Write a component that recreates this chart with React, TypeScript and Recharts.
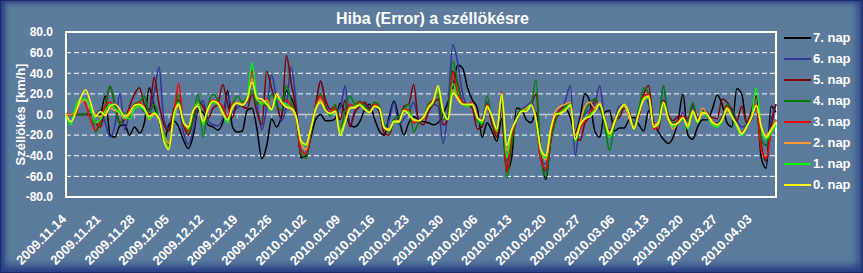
import React from "react";
import {
  LineChart,
  Line,
  XAxis,
  YAxis,
  CartesianGrid,
  ReferenceLine,
  ReferenceArea,
} from "recharts";

const DATE_LABELS = [
  "2009.11.14", "2009.11.21", "2009.11.28", "2009.12.05", "2009.12.12",
  "2009.12.19", "2009.12.26", "2010.01.02", "2010.01.09", "2010.01.16",
  "2010.01.23", "2010.01.30", "2010.02.06", "2010.02.13", "2010.02.20",
  "2010.02.27", "2010.03.06", "2010.03.13", "2010.03.20", "2010.03.27",
  "2010.04.03",
];

const Y_TICKS = [-80, -60, -40, -20, 0, 20, 40, 60, 80];

// one value per day, 2009.11.14 .. 2010.04.08
const NAP7 = [
  0, 0, 0, 0, 0, 0, 0, 0, 18, -20,
  -22, -11, -10, -20, -12, -18, -8, 26, 8, -4,
  -26, -10, -6, -12, -25, -33, -20, 4, 2, -10,
  -12, -15, -8, 23, -12, -17, -16, 4, 6, -14,
  -43, -30, -4, -12, -2, 23, 16, 2, -42, -40,
  -22, -5, 0, -6, -6, -4, 11, 2, -10, -12,
  -7, 5, 10, -4, -16, -20, -2, 13, -4, -20,
  -8, -2, -5, -7, -8, -10, -8, 0, 12, 26,
  48, 45, 26, 14, 6, -22, -8, -16, -26, -4,
  -55, -42, 6, 5, -5, -8, 2, -40, -63, -25,
  -5, 2, 6, -3, -18, -2, 20, 12, -16, -22,
  2, 4, -16, -13, -13, -5, -3, -10, -16, 4,
  -8, -17, -24, -28, -22, -6, 20, -20, -24, -12,
  -5, -5, 5, 19, 10, -8, -12, 25, 20, -8,
  -3, 9, -42, -52, 8, 2,
];

const NAP6 = [
  0, 0, 0, 0, 0, 0, 0, 4, -8, -22,
  -10, 20, -15, 2, 10, 12, 2, 3, 20, 46,
  -5, -14, 2, 6, -18, -29, -15, 8, 13, -6,
  -10, -11, -4, 20, 2, 7, 9, 12, 30, 10,
  -15, 8, 38, 15, -6, 8, 46, 10, -34, -38,
  -15, 8, 33, 10, 2, 5, 6, 28, -10, 4,
  8, 10, 5, 8, 2, -12, -5, 12, -10, -4,
  2, 12, -4, -2, 4, 10, 8, -28, 5, 68,
  50, 20, 10, 12, -6, -4, 12, -10, -15, 8,
  -45, -20, -2, 5, 8, 12, -3, -45, -48, -20,
  -2, 3, 14, 28, -40, -5, 0, 5, 10, 28,
  -4, -15, -5, 8, 10, -2, -8, 5, 20, 10,
  -10, -10, 28, -5, -12, -8, 2, -10, 8, -4,
  5, 2, -6, -8, -2, 8, 6, -6, -12, -10,
  -5, 8, -25, -30, -5, 10,
];

const NAP5 = [
  0, 0, 0, 0, 0, 0, -8, -12, 5, 27,
  10, -8, -5, 8, 20, 26, 10, 5, 36, 10,
  -10, -16, 5, 14, -10, -20, -5, 12, 8, -4,
  6, 10, 29, 10, -3, 12, 8, 6, 20, 2,
  -10, 42, 25, 10, -4, 57, 30, 5, -40, -42,
  -20, 10, 32, 14, 5, 8, -5, 14, -12, 2,
  8, 12, 6, 10, 4, -18, -20, -5, -8, 8,
  10, 29, -6, -10, 2, 10, 15, -10, -5, 42,
  30, 12, 10, 6, -14, -12, 8, -8, -22, 10,
  -52, -25, -6, 4, 5, 10, 20, -40, -55, -25,
  -2, 5, 8, 12, -20, -25, -8, -2, 15, 6,
  -5, -18, -5, -3, 6, 3, -12, -2, 20, 28,
  -8, -15, 14, 0, -6, -2, -2, -4, 10, -4,
  4, 0, -3, -4, 15, 12, 4, -6, 8, -8,
  4, 18, -30, -45, -12, 10,
];

const NAP4 = [
  0, 0, 0, 0, 0, 5, -17, -8, 10, 28,
  8, -10, 2, -3, 10, 12, 18, 0, 10, -5,
  -18, -30, -5, 20, -6, -18, -2, 20, -22, 8,
  20, 14, 6, -3, 10, 18, 12, 16, 22, 10,
  12, 8, 20, 10, 4, 28, 12, -4, -38, -42,
  -18, 8, 20, 8, -2, 10, -15, 5, 18, 10,
  13, 8, 4, 12, 8, -10, -17, -4, -2, 6,
  10, -17, -8, -3, 10, 14, 20, -5, 0, 52,
  30, 10, 8, 10, -5, -10, 18, -5, -18, 18,
  -62, -30, -4, 5, 6, 10, 34, -42, -60, -25,
  -5, 3, 8, 12, -26, -8, 3, 12, 15, 8,
  -10, -35, -10, 2, 8, 0, -10, 5, 26, 20,
  -12, -8, 28, -3, -8, -6, -4, -6, 12, -8,
  4, -2, -6, -10, -3, 10, 2, -10, -18, -10,
  -4, 10, -24, -30, -16, -5,
];

const NAP3 = [
  0, 0, 0, 15, 10, -5, -15, -6, 8, 12,
  6, 2, -4, 4, 8, 12, 5, 0, 2, -4,
  -20, -30, -3, 30, -8, -16, 4, 12, -8, 6,
  14, 12, 8, -2, 10, 12, 10, 16, 42, 14,
  10, 15, 6, 18, 10, 14, 8, -4, -35, -38,
  -16, 8, 18, 6, 2, 6, -18, -5, 10, 8,
  12, 6, 3, 10, 6, -14, -16, -6, -6, 5,
  4, -8, -6, -4, 8, 14, 26, 2, -4, 40,
  20, 12, 8, 12, -4, -6, 10, -4, -18, 22,
  -56, -22, -6, 3, 4, 10, -4, -45, -52, -20,
  -2, 4, 6, 10, -25, -14, -6, 2, 6, 10,
  -4, -20, -8, 4, 8, 1, -14, 0, 18, 20,
  -14, -10, 12, -4, -10, -6, -2, -12, 4, -6,
  2, 0, -8, -10, -4, 8, -2, -10, -18, -12,
  -4, 10, -35, -42, -18, -6,
];

const NAP2 = [
  0, 0, 3, 12, 14, 5, 0, -2, 2, 6,
  4, 1, -4, 0, 6, 8, 5, -5, 0, -5,
  -20, -28, -4, 8, -6, -12, 4, 10, -6, 4,
  12, 10, 0, -6, 8, 12, 10, 14, 35, 14,
  12, 14, 4, 18, 12, 8, 5, -4, -28, -34,
  -14, 6, 14, 4, 1, 4, -16, -6, 6, 6,
  10, 5, 2, 8, 6, -12, -14, -6, -6, 4,
  2, -6, -6, -2, 6, 12, 24, 4, -5, 24,
  14, 10, 8, 10, -2, -6, 6, -2, -16, 18,
  -35, -16, -4, 3, 6, 10, -4, -36, -44, -16,
  4, 8, 10, 12, -20, -8, 8, 12, 6, 12,
  -4, -18, -6, 4, 8, -4, -12, 2, 14, 16,
  -10, -8, 10, -5, -14, -8, -4, -10, 4, -6,
  6, 0, -6, -10, -6, 4, -2, -10, -18, -12,
  -2, 8, -12, -20, -14, -6,
];

const NAP1 = [
  0, -10, 8, 15, 15, 6, -8, -5, 4, 10,
  6, 2, -3, -4, 6, 8, 4, -4, 2, -4,
  -22, -32, -4, 12, -6, -14, 4, 12, -10, 6,
  12, 10, 2, -8, 8, 11, 9, 16, 50, 16,
  10, 12, 4, 16, 12, 10, 6, -2, -26, -30,
  -14, 6, 12, 4, 0, 4, -18, -6, 6, 8,
  10, 6, 2, 8, 6, -12, -16, -6, -8, 4,
  2, -5, -6, -3, 6, 12, 26, 2, -4, 30,
  16, 10, 8, 10, -4, -8, 8, -2, -16, 20,
  -42, -16, -6, 3, 4, 10, -6, -36, -42, -14,
  0, 2, 6, 10, -26, -10, -4, 0, 4, 10,
  -5, -22, -8, 4, 10, 1, -14, 2, 16, 16,
  -12, -10, 10, -4, -12, -8, -4, -14, 2, -8,
  2, -2, -10, -12, -6, 6, -2, -12, -20, -12,
  -2, 26, -14, -24, -18, -10,
];

const NAP0 = [
  0, -7, 2, 16, 24, 12, -2, 3, -1, 8,
  10, 5, -2, 2, 9, 10, 6, -2, 1, -4,
  -26, -34, 0, 10, -8, -12, 4, 8, -7, 6,
  13, 11, 2, -5, 7, 11, 9, 15, 31, 16,
  15, 10, 5, 20, 12, 7, 6, -2, -26, -29,
  -14, 5, 12, 4, 1, 3, -20, -8, 6, 7,
  9, 5, 2, 8, 6, -13, -15, -7, -7, 4,
  0, -5, -6, -3, 7, 13, 28, 4, -5, 21,
  16, 10, 10, 10, -3, -6, 8, -2, -14, 20,
  -30, -15, -5, 3, 3, 9, -5, -34, -40, -14,
  0, 1, 4, 9, -24, -10, -4, -2, 3, 10,
  -5, -19, -8, 4, 10, 1, -14, 1, 15, 18,
  -12, -8, 12, -4, -10, -8, -3, -12, 3, -7,
  2, 0, -8, -10, -5, 6, -2, -10, -19, -12,
  -3, 9, -12, -22, -15, -8,
];

const SERIES = [
  { key: "nap7", name: "7. nap", color: "#000000", values: NAP7 },
  { key: "nap6", name: "6. nap", color: "#333399", values: NAP6 },
  { key: "nap5", name: "5. nap", color: "#800000", values: NAP5 },
  { key: "nap4", name: "4. nap", color: "#008000", values: NAP4 },
  { key: "nap3", name: "3. nap", color: "#FF0000", values: NAP3 },
  { key: "nap2", name: "2. nap", color: "#FF9933", values: NAP2 },
  { key: "nap1", name: "1. nap", color: "#00FF00", values: NAP1 },
  { key: "nap0", name: "0. nap", color: "#FFFF00", values: NAP0 },
];

const TICK_DAYS = DATE_LABELS.map((_, i) => i * 7);
const LAST_DAY = NAP0.length - 1;

const data = NAP0.map((_, i) => {
  const row: Record<string, number> = { day: i };
  SERIES.forEach((s) => {
    row[s.key] = s.values[i];
  });
  return row;
});

const FONT = '"Liberation Sans", Arial, sans-serif';
const BG = "#5B7A9C";

const DateTick = (props: any) => {
  const { x, y, payload } = props;
  const label = DATE_LABELS[Math.round(payload.value / 7)];
  const ax = x + 1;
  const ay = y + 23;
  return (
    <text
      x={ax}
      y={ay}
      transform={`rotate(-45, ${ax}, ${ay})`}
      textAnchor="end"
      fill="#ffffff"
      fontSize={13}
      fontWeight="bold"
      fontFamily={FONT}
    >
      {label}
    </text>
  );
};

export default function App() {
  return (
    <div
      style={{
        position: "absolute",
        left: 0,
        top: 0,
        width: 863,
        height: 273,
        background: BG,
        boxShadow:
          "inset 0 0 0 1px #1c2b6a, inset 5px 3px 5px #2b3f86, inset -5px -7px 7px #2b3f86",
        fontFamily: FONT,
        overflow: "hidden",
      }}
    >
      <div
        style={{
          position: "absolute",
          left: 0,
          top: 11,
          width: 865,
          textAlign: "center",
          color: "#fff",
          fontWeight: "bold",
          fontSize: 16,
          lineHeight: "16px",
        }}
      >
        Hiba (Error) a széllökésre
      </div>

      <LineChart
        width={863}
        height={273}
        data={data}
        margin={{ top: 32, right: 87, bottom: 0, left: 0 }}
      >
        <CartesianGrid
          vertical={false}
          horizontalValues={[-60, -40, -20, 20, 40, 60]}
          stroke="#ffffff"
          strokeDasharray="5 3"
        />
        <XAxis
          dataKey="day"
          type="number"
          domain={[0, LAST_DAY]}
          ticks={TICK_DAYS}
          interval={0}
          axisLine={false}
          tickLine={false}
          tickSize={0}
          tickMargin={0}
          height={76}
          tick={<DateTick />}
        />
        <YAxis
          domain={[-80, 80]}
          ticks={Y_TICKS}
          interval={0}
          width={66}
          axisLine={false}
          tickLine={false}
          tickSize={0}
          tickMargin={13}
          tickFormatter={(v: number) => v.toFixed(1)}
          tick={{ fill: "#ffffff", fontSize: 12, fontWeight: "bold", fontFamily: FONT }}
          label={{
            value: "Széllökés [km/h]",
            angle: -90,
            position: "insideLeft",
            offset: 20,
            fill: "#ffffff",
            fontSize: 13,
            fontWeight: "bold",
            fontFamily: FONT,
            style: { textAnchor: "middle" },
          }}
        />
        <ReferenceLine y={0} stroke="#C8C8C8" strokeWidth={1.5} />
        {TICK_DAYS.map((d) => (
          <ReferenceLine
            key={d}
            segment={[
              { x: d, y: 0 },
              { x: d, y: -4 },
            ]}
            stroke="#C8C8C8"
            strokeWidth={1}
          />
        ))}
        {SERIES.map((s) => (
          <Line
            key={s.key}
            dataKey={s.key}
            name={s.name}
            type="monotone"
            stroke={s.color}
            strokeWidth={1.5}
            dot={false}
            isAnimationActive={false}
          />
        ))}
        <ReferenceArea
          x1={0}
          x2={LAST_DAY}
          y1={-80}
          y2={80}
          fill="none"
          fillOpacity={0}
          stroke="#ffffff"
          strokeWidth={2}
        />
      </LineChart>

      {SERIES.map((s, i) => (
        <div key={s.key}>
          <div
            style={{
              position: "absolute",
              left: 784,
              top: 37 + i * 21,
              width: 27,
              height: 2,
              background: s.color,
            }}
          />
          <div
            style={{
              position: "absolute",
              left: 813,
              top: 30 + i * 21,
              color: "#fff",
              fontWeight: "bold",
              fontSize: 13,
              lineHeight: "15px",
              whiteSpace: "nowrap",
            }}
          >
            {s.name}
          </div>
        </div>
      ))}
    </div>
  );
}
